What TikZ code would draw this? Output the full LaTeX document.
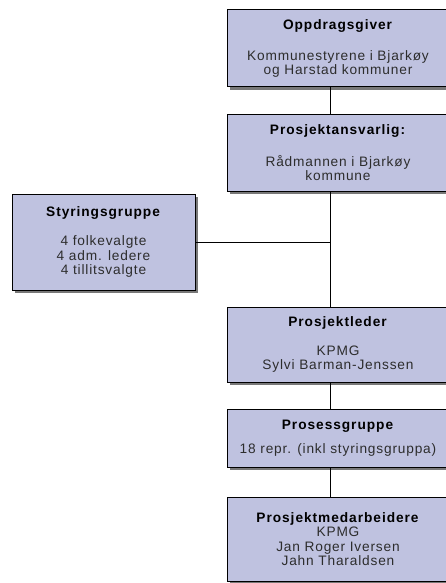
\documentclass[tikz,border=0pt]{standalone}
\usepackage{fontspec}
\setmainfont{Liberation Sans}[LetterSpace=6, BoldFeatures={LetterSpace=7}]
\usetikzlibrary{positioning,shadows}

\definecolor{boxfill}{RGB}{191,194,224}
\definecolor{shadowgray}{RGB}{120,120,120}
\definecolor{bodytext}{RGB}{45,45,45}

\begin{document}
\begin{tikzpicture}[
    x=1pt, y=-1pt,
    orgbox/.style={
        rectangle,
        draw,
        line width=1pt,
        fill=boxfill,
        outer sep=0pt,
        inner sep=2pt,
        minimum width=222pt,
        align=center,
        text=bodytext,
        font=\fontsize{13.7}{14.5}\selectfont,
        drop shadow={shadow xshift=3pt, shadow yshift=-3pt, fill=shadowgray, opacity=1}
    },
    link/.style={draw, line width=1pt}
]
\useasboundingbox (0,0) rectangle (445,583);

% Main chain
\node [orgbox, minimum height=77pt] (oppdrag) at (338,48.5)
    {\textcolor{black}{\textbf{Oppdragsgiver}}\\[16pt]Kommunestyrene i Bjarkøy\\og Harstad kommuner};

\node [orgbox, minimum height=76pt, below=28pt of oppdrag] (ansvarlig)
    {\textcolor{black}{\textbf{Prosjektansvarlig:}}\\[17pt]Rådmannen i Bjarkøy\\kommune};

\node [orgbox, minimum height=75pt, below=116pt of ansvarlig] (leder)
    {\textcolor{black}{\textbf{Prosjektleder}}\\[14pt]KPMG\\Sylvi Barman-Jenssen};

\node [orgbox, minimum height=58pt, below=27pt of leder] (prosess)
    {\textcolor{black}{\textbf{Prosessgruppe}}\\[9pt]18 repr. (inkl styringsgruppa)};

\node [orgbox, minimum height=84pt, below=30pt of prosess] (medarb)
    {\textcolor{black}{\textbf{Prosjektmedarbeidere}}\\KPMG\\Jan Roger Iversen\\Jahn Tharaldsen};

% Side box
\node [orgbox, minimum width=183pt, minimum height=96pt] (styring) at (103.5,242)
    {\textcolor{black}{\textbf{Styringsgruppe}}\\[15pt]4 folkevalgte\\4 adm. ledere\\4 tillitsvalgte};

% Connectors along the spine
\coordinate (spine) at (330,0);
\draw [link] (oppdrag.south -| spine) -- (ansvarlig.north -| spine);
\draw [link] (ansvarlig.south -| spine) -- (leder.north -| spine);
\draw [link] (leder.south -| spine) -- (prosess.north -| spine);
\draw [link] (prosess.south -| spine) -- (medarb.north -| spine);
\draw [link] (styring.east) -- (styring.east -| spine);

\end{tikzpicture}
\end{document}
